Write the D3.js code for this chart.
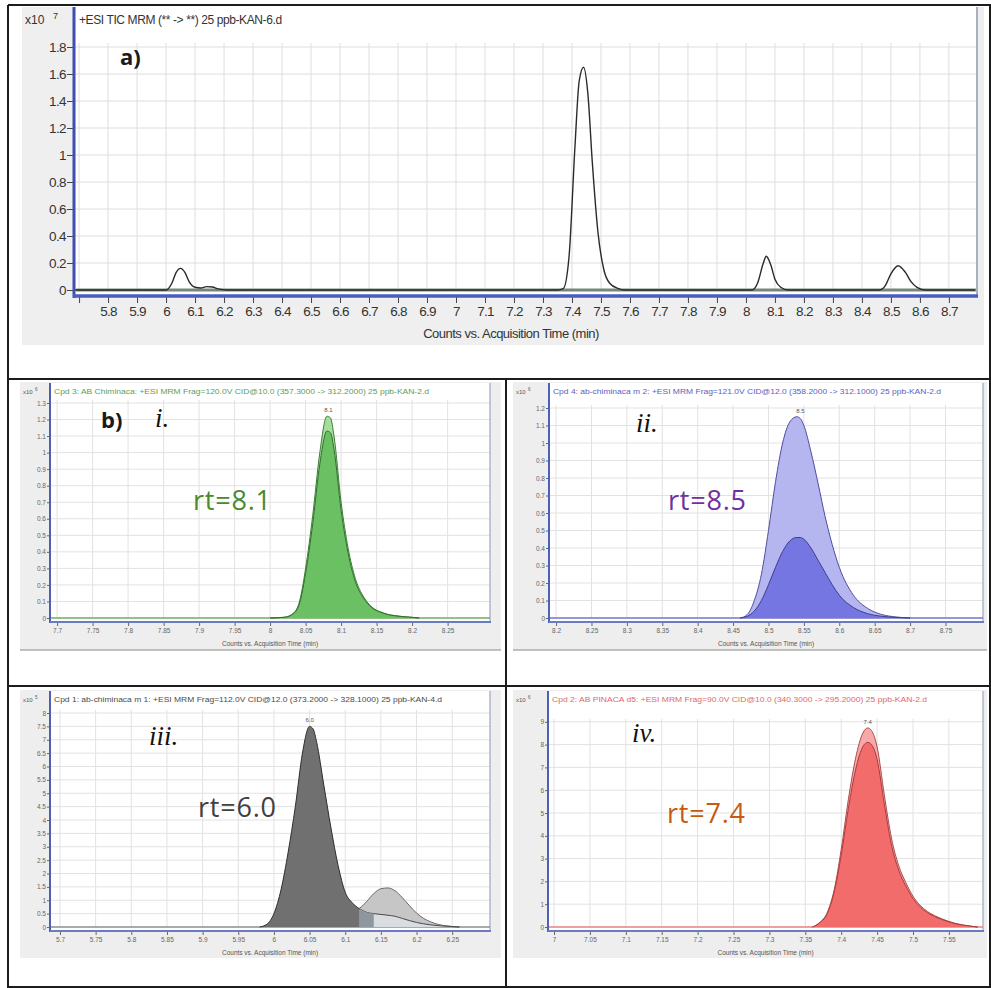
<!DOCTYPE html>
<html lang="en">
<head>
<meta charset="UTF-8" />
<title>MRM chromatograms</title>
<script src="https://cdn.jsdelivr.net/npm/d3@7"></script>
<style>
  body { margin: 0; background: #fff; }
  svg { display: block; font-family: "Liberation Sans", Arial, sans-serif; }
</style>
</head>
<body>
<div id="wrapper"></div>
<script>
// ---------- data ----------
// a) TIC, counts x10^7
const ticTime   = [5.686, 6.00, 6.02, 6.035, 6.05, 6.065, 6.08, 6.10, 6.12, 6.14, 6.16, 6.18, 6.21,
                   7.35, 7.37, 7.39, 7.41, 7.425, 7.44, 7.455, 7.47, 7.49, 7.51, 7.53, 7.56, 7.58,
                   8.02, 8.04, 8.06, 8.07, 8.085, 8.10, 8.12, 8.145,
                   8.46, 8.48, 8.50, 8.525, 8.55, 8.57, 8.59, 8.62, 8.79];
const ticCounts = [0, 0, 0.05, 0.13, 0.16, 0.13, 0.06, 0.02, 0.015, 0.025, 0.022, 0.008, 0,
                   0, 0.01, 0.25, 1.05, 1.55, 1.65, 1.45, 0.95, 0.42, 0.15, 0.05, 0.01, 0,
                   0, 0.05, 0.2, 0.25, 0.19, 0.08, 0.02, 0,
                   0, 0.03, 0.12, 0.18, 0.13, 0.06, 0.02, 0, 0];
const ticXTicks = [5.7, 5.8, 5.9, 6, 6.1, 6.2, 6.3, 6.4, 6.5, 6.6, 6.7, 6.8, 6.9, 7, 7.1, 7.2, 7.3,
                   7.4, 7.5, 7.6, 7.7, 7.8, 7.9, 8, 8.1, 8.2, 8.3, 8.4, 8.5, 8.6, 8.7];
const ticYTicks = [0, 0.2, 0.4, 0.6, 0.8, 1, 1.2, 1.4, 1.6, 1.8];

// b) i. AB-CHMINACA, counts x10^6
const timeI   = [8.00, 8.02, 8.03, 8.04, 8.05, 8.06, 8.07, 8.08, 8.085, 8.09, 8.10, 8.11, 8.12, 8.13, 8.14, 8.16, 8.18, 8.20, 8.21];
const outerI  = [0, 0.005, 0.02, 0.08, 0.3, 0.62, 1.0, 1.22, 1.21, 1.1, 0.7, 0.42, 0.24, 0.14, 0.08, 0.03, 0.012, 0.004, 0];
const innerI  = [0, 0.004, 0.018, 0.07, 0.27, 0.57, 0.93, 1.13, 1.12, 1.02, 0.65, 0.39, 0.22, 0.13, 0.075, 0.028, 0.011, 0.004, 0];
const xTicksI = [7.7, 7.75, 7.8, 7.85, 7.9, 7.95, 8, 8.05, 8.1, 8.15, 8.2, 8.25];
const yTicksI = [0, 0.1, 0.2, 0.3, 0.4, 0.5, 0.6, 0.7, 0.8, 0.9, 1, 1.1, 1.2, 1.3];

// b) ii. ab-chminaca m2, counts x10^6
const timeII   = [8.46, 8.47, 8.48, 8.49, 8.50, 8.51, 8.52, 8.53, 8.54, 8.545, 8.55, 8.56, 8.57, 8.58, 8.59, 8.60, 8.62, 8.64, 8.66, 8.68, 8.70];
const outerII  = [0, 0.02, 0.1, 0.25, 0.5, 0.78, 1.0, 1.12, 1.15, 1.14, 1.1, 0.95, 0.77, 0.58, 0.42, 0.29, 0.13, 0.055, 0.02, 0.006, 0];
const innerII  = [0, 0.01, 0.04, 0.1, 0.19, 0.29, 0.38, 0.44, 0.46, 0.46, 0.45, 0.4, 0.33, 0.26, 0.19, 0.13, 0.06, 0.025, 0.01, 0.003, 0];
const xTicksII = [8.2, 8.25, 8.3, 8.35, 8.4, 8.45, 8.5, 8.55, 8.6, 8.65, 8.7, 8.75];
const yTicksII = [0, 0.1, 0.2, 0.3, 0.4, 0.5, 0.6, 0.7, 0.8, 0.9, 1, 1.1, 1.2];

// b) iii. ab-chminaca m1, counts x10^5
const timeIII   = [5.98, 5.99, 6.00, 6.01, 6.02, 6.03, 6.04, 6.05, 6.055, 6.06, 6.07, 6.08, 6.09, 6.10, 6.11, 6.12,
                   6.13, 6.14, 6.15, 6.16, 6.17, 6.18, 6.19, 6.20, 6.22, 6.24, 6.26];
const mainIII   = [0, 0.1, 0.5, 1.4, 2.8, 4.5, 6.5, 7.5, 7.4, 6.9, 5.3, 3.7, 2.3, 1.3, 0.9, 0.68,
                   0.55, 0.5, 0.47, 0.44, 0.4, 0.32, 0.24, 0.17, 0.08, 0.03, 0];
const timeIIIb  = [6.11, 6.12, 6.13, 6.14, 6.15, 6.16, 6.17, 6.18, 6.19, 6.20, 6.21, 6.22, 6.23, 6.24, 6.25, 6.26];
const secondIII = [0.6, 0.7, 0.95, 1.25, 1.43, 1.46, 1.35, 1.1, 0.8, 0.52, 0.32, 0.19, 0.1, 0.05, 0.02, 0];
const xTicksIII = [5.7, 5.75, 5.8, 5.85, 5.9, 5.95, 6, 6.05, 6.1, 6.15, 6.2, 6.25];
const yTicksIII = [0, 0.5, 1, 1.5, 2, 2.5, 3, 3.5, 4, 4.5, 5, 5.5, 6, 6.5, 7, 7.5, 8];

// b) iv. AB-PINACA d5, counts x10^6
const timeIV   = [7.36, 7.37, 7.38, 7.39, 7.40, 7.41, 7.42, 7.43, 7.437, 7.445, 7.45, 7.46, 7.47, 7.48, 7.49, 7.50, 7.51, 7.52, 7.53, 7.54, 7.56, 7.58, 7.59];
const outerIV  = [0, 0.2, 0.6, 1.6, 3.4, 5.6, 7.4, 8.5, 8.73, 8.45, 7.9, 5.8, 3.9, 2.7, 1.95, 1.35, 0.95, 0.68, 0.5, 0.36, 0.15, 0.04, 0];
const innerIV  = [0, 0.18, 0.55, 1.5, 3.15, 5.2, 6.9, 7.9, 8.1, 7.85, 7.35, 5.4, 3.6, 2.5, 1.8, 1.25, 0.88, 0.63, 0.46, 0.33, 0.14, 0.037, 0];
const xTicksIV = [7, 7.05, 7.1, 7.15, 7.2, 7.25, 7.3, 7.35, 7.4, 7.45, 7.5, 7.55];
const yTicksIV = [0, 1, 2, 3, 4, 5, 6, 7, 8, 9];

const fmt = d => String(+d.toFixed(2));
const sans = '"Liberation Sans", Arial, sans-serif';

// ---------- page ----------
const svg = d3.select('#wrapper').append('svg')
  .attr('width', 991)
  .attr('height', 988);

// ---------- a) TIC ----------
function drawTic() {
  const g = svg.append('g');
  g.append('rect').attr('x', 22).attr('y', 7).attr('width', 962).attr('height', 338).attr('fill', '#efefef');
  g.append('rect').attr('x', 75).attr('y', 7).attr('width', 902).attr('height', 289).attr('fill', '#fff');

  const x = d3.scaleLinear().domain([5.686, 8.79]).range([75, 975]);
  const y = d3.scaleLinear().domain([0, 1.8]).range([290, 47]);

  // grid
  g.append('g').selectAll('line').data(ticXTicks).join('line')
    .attr('x1', d => x(d)).attr('x2', d => x(d))
    .attr('y1', y(1.8) - 4).attr('y2', y(0))
    .attr('stroke', '#dedede');
  g.append('g').selectAll('line').data(ticYTicks.slice(1)).join('line')
    .attr('x1', 75).attr('x2', 977)
    .attr('y1', d => y(d)).attr('y2', d => y(d))
    .attr('stroke', '#dedede');

  g.append('line').attr('x1', 977).attr('x2', 977).attr('y1', 7).attr('y2', 296)
    .attr('stroke', '#8e9aae').attr('stroke-width', 1.5);

  // baseline + trace
  g.append('line').attr('x1', 76).attr('x2', 976).attr('y1', y(0)).attr('y2', y(0))
    .attr('stroke', '#76887a').attr('stroke-width', 3);
  const line = d3.line().x(d => x(d[0])).y(d => y(d[1])).curve(d3.curveMonotoneX);
  g.append('path').attr('d', line(d3.zip(ticTime, ticCounts)))
    .attr('fill', 'none').attr('stroke', '#2a2a2a').attr('stroke-width', 1.4);

  // axes
  const yAxis = g.append('g').attr('transform', 'translate(74,0)')
    .call(d3.axisLeft(y).tickValues(ticYTicks).tickFormat(fmt).tickSize(7).tickPadding(1));
  yAxis.select('.domain').remove();
  yAxis.selectAll('text').style('font-family', sans)
    .attr('font-size', 13.5).attr('fill', '#333').attr('letter-spacing', -0.6);
  yAxis.selectAll('line').attr('stroke', '#444');

  const xAxis = g.append('g').attr('transform', 'translate(0,297)')
    .call(d3.axisBottom(x).tickValues(ticXTicks).tickFormat(d => d === 5.7 ? '' : fmt(d)).tickSize(6).tickPadding(3));
  xAxis.select('.domain').remove();
  xAxis.selectAll('text').style('font-family', sans)
    .attr('font-size', 13.5).attr('fill', '#333').attr('letter-spacing', -0.7);
  xAxis.selectAll('line').attr('stroke', '#444');

  g.append('line').attr('x1', 74).attr('x2', 74).attr('y1', 7).attr('y2', 298)
    .attr('stroke', '#3f4fb0').attr('stroke-width', 3);
  g.append('line').attr('x1', 73).attr('x2', 978).attr('y1', 296).attr('y2', 296)
    .attr('stroke', '#4a5cc0').attr('stroke-width', 3.5);

  g.append('text').attr('x', 25).attr('y', 24).attr('font-size', 12).attr('fill', '#333').text('x10');
  g.append('text').attr('x', 53).attr('y', 19).attr('font-size', 9).attr('fill', '#333').text('7');
  g.append('text').attr('x', 79).attr('y', 24).attr('font-size', 12).attr('fill', '#333')
    .attr('letter-spacing', -0.4).text('+ESI TIC MRM (** -> **) 25 ppb-KAN-6.d');
  g.append('text').attr('x', 511).attr('y', 338).attr('text-anchor', 'middle')
    .attr('font-size', 13).attr('fill', '#333').attr('letter-spacing', -0.5)
    .text('Counts vs. Acquisition Time (min)');
}

// ---------- b) small MRM panels ----------
function drawPanel(c) {
  const g = svg.append('g');
  g.append('rect').attr('x', c.bx).attr('y', c.by).attr('width', c.bw).attr('height', c.bh).attr('fill', '#eeeeee');
  g.append('rect').attr('x', c.left).attr('y', c.top).attr('width', c.right - c.left).attr('height', c.axisY - c.top)
    .attr('fill', '#fff');
  if (c.bottomLine) {
    g.append('line').attr('x1', c.bx).attr('x2', c.bx + c.bw).attr('y1', c.by + c.bh).attr('y2', c.by + c.bh)
      .attr('stroke', '#888').attr('stroke-width', 1.2);
  }

  const x = d3.scaleLinear().domain(c.xDomain).range([c.left, c.right]);
  const y = d3.scaleLinear().domain([0, c.yMax]).range([c.zeroY, c.top]);
  const yTop = y(c.yTicks[c.yTicks.length - 1]) - 3;

  g.append('g').selectAll('line').data(c.xTicks).join('line')
    .attr('x1', d => x(d)).attr('x2', d => x(d)).attr('y1', yTop).attr('y2', c.zeroY)
    .attr('stroke', '#e2e2e2');
  g.append('g').selectAll('line').data(c.yTicks.slice(1)).join('line')
    .attr('x1', c.left).attr('x2', c.right).attr('y1', d => y(d)).attr('y2', d => y(d))
    .attr('stroke', '#e2e2e2');
  g.append('line').attr('x1', c.right).attr('x2', c.right).attr('y1', c.top).attr('y2', c.axisY)
    .attr('stroke', '#9aa6c4').attr('stroke-width', 1.2);

  g.append('line').attr('x1', c.left).attr('x2', c.right).attr('y1', c.zeroY).attr('y2', c.zeroY)
    .attr('stroke', c.baseColor).attr('stroke-width', 1.5);

  const area = d3.area().x(d => x(d[0])).y0(y(0)).y1(d => y(d[1])).curve(d3.curveMonotoneX);
  const line = d3.line().x(d => x(d[0])).y(d => y(d[1])).curve(d3.curveMonotoneX);
  c.layers.forEach(l => {
    const pts = d3.zip(l.t, l.v).filter(d => (l.from == null || d[0] >= l.from) && (l.to == null || d[0] <= l.to));
    g.append('path').attr('d', area(pts)).attr('fill', l.fill).attr('stroke', 'none');
    if (l.stroke) {
      g.append('path').attr('d', line(pts)).attr('fill', 'none').attr('stroke', l.stroke).attr('stroke-width', 1);
    }
  });

  const yAxis = g.append('g').attr('transform', `translate(${c.left},0)`)
    .call(d3.axisLeft(y).tickValues(c.yTicks).tickFormat(fmt).tickSize(3).tickPadding(1));
  yAxis.select('.domain').remove();
  yAxis.selectAll('text').style('font-family', sans).attr('font-size', 6.5).attr('fill', '#666');
  yAxis.selectAll('line').attr('stroke', '#666');

  const xAxis = g.append('g').attr('transform', `translate(0,${c.axisY + 1})`)
    .call(d3.axisBottom(x).tickValues(c.xTicks).tickFormat(fmt).tickSize(3).tickPadding(2));
  xAxis.select('.domain').remove();
  xAxis.selectAll('text').style('font-family', sans).attr('font-size', 6.5).attr('fill', '#666');
  xAxis.selectAll('line').attr('stroke', '#666');

  g.append('line').attr('x1', c.left).attr('x2', c.left).attr('y1', c.top).attr('y2', c.axisY + 1)
    .attr('stroke', '#4f5fb5').attr('stroke-width', 2);
  g.append('line').attr('x1', c.left).attr('x2', c.right + 1).attr('y1', c.axisY).attr('y2', c.axisY)
    .attr('stroke', '#6a7ac4').attr('stroke-width', 2);

  g.append('text').attr('x', c.bx + 3).attr('y', c.top + 11).attr('font-size', 6).attr('fill', '#555').text('x10');
  g.append('text').attr('x', c.bx + 15).attr('y', c.top + 8).attr('font-size', 4.5).attr('fill', '#555').text(c.exp);
  g.append('text').attr('x', c.left + 4).attr('y', c.top + 11).attr('font-size', 6.5).attr('fill', c.titleColor)
    .attr('textLength', c.titleLen).attr('lengthAdjust', 'spacingAndGlyphs').text(c.title);
  g.append('text').attr('x', x(c.peakAt)).attr('y', y(c.peakVal) - 4).attr('text-anchor', 'middle')
    .attr('font-size', 6).attr('fill', '#555').text(c.peakLabel);
  g.append('text').attr('x', (c.left + c.right) / 2).attr('y', c.axisY + 24).attr('text-anchor', 'middle')
    .attr('font-size', 6.5).attr('fill', '#555').text('Counts vs. Acquisition Time (min)');
}

drawTic();

drawPanel({
  bx: 20, by: 382, bw: 481, bh: 268, bottomLine: true,
  left: 50, right: 490, top: 383, zeroY: 618, axisY: 622,
  xDomain: [7.69, 8.3097], yMax: (618 - 383) / 165.4,
  xTicks: xTicksI, yTicks: yTicksI, exp: '6', baseColor: '#6fae62',
  title: 'Cpd 3: AB Chiminaca: +ESI MRM Frag=120.0V CID@10.0 (357.3000 -> 312.2000) 25 ppb-KAN-2.d',
  titleLen: 375, titleColor: '#5c9e55',
  peakAt: 8.082, peakVal: 1.22, peakLabel: '8.1',
  layers: [
    { t: timeI, v: outerI, fill: '#a6dc9c', stroke: '#3e7f3a' },
    { t: timeI, v: innerI, fill: '#6cc064', stroke: '#2f6f2c' }
  ]
});

drawPanel({
  bx: 513, by: 382, bw: 474, bh: 268, bottomLine: true,
  left: 549, right: 983, top: 383, zeroY: 618, axisY: 622,
  xDomain: [8.19, 8.803], yMax: (618 - 383) / 175,
  xTicks: xTicksII, yTicks: yTicksII, exp: '6', baseColor: '#7474c8',
  title: 'Cpd 4: ab-chiminaca m 2: +ESI MRM Frag=121.0V CID@12.0 (358.2000 -> 312.1000) 25 ppb-KAN-2.d',
  titleLen: 388, titleColor: '#5a5ec0',
  peakAt: 8.545, peakVal: 1.15, peakLabel: '8.5',
  layers: [
    { t: timeII, v: outerII, fill: '#b5b5f0', stroke: '#4e4ea0' },
    { t: timeII, v: innerII, fill: '#7676e2', stroke: '#3c3c90' }
  ]
});

drawPanel({
  bx: 20, by: 690, bw: 481, bh: 268, bottomLine: false,
  left: 50, right: 490, top: 691, zeroY: 927, axisY: 931,
  xDomain: [5.686, 6.303], yMax: (927 - 691) / 26.75,
  xTicks: xTicksIII, yTicks: yTicksIII, exp: '5', baseColor: '#8a8f96',
  title: 'Cpd 1: ab-chiminaca m 1: +ESI MRM Frag=112.0V CID@12.0 (373.2000 -> 328.1000) 25 ppb-KAN-4.d',
  titleLen: 388, titleColor: '#4a4a4a',
  peakAt: 6.05, peakVal: 7.5, peakLabel: '6.0',
  layers: [
    { t: timeIIIb, v: secondIII, fill: '#c6c6c6', stroke: '#6a6a6a' },
    { t: timeIII, v: mainIII, from: 6.12, fill: '#d9dde2', stroke: '#4a4a4a' },
    { t: timeIII, v: mainIII, from: 6.12, to: 6.14, fill: '#8e969e' },
    { t: timeIII, v: mainIII, to: 6.12, fill: '#707070', stroke: '#2e2e2e' }
  ]
});

drawPanel({
  bx: 513, by: 690, bw: 474, bh: 268, bottomLine: false,
  left: 548, right: 983, top: 691, zeroY: 927, axisY: 931,
  xDomain: [6.9916, 7.5975], yMax: (927 - 691) / 22.8,
  xTicks: xTicksIV, yTicks: yTicksIV, exp: '6', baseColor: '#e88080',
  title: 'Cpd 2: AB PINACA d5: +ESI MRM Frag=90.0V CID@10.0 (340.3000 -> 295.2000) 25 ppb-KAN-2.d',
  titleLen: 375, titleColor: '#e06868',
  peakAt: 7.437, peakVal: 8.73, peakLabel: '7.4',
  layers: [
    { t: timeIV, v: outerIV, fill: '#f7a8a8', stroke: '#b04a4a' },
    { t: timeIV, v: innerIV, fill: '#f26c6c', stroke: '#a83c3c' }
  ]
});

// ---------- annotations ----------
const ann = svg.append('g');
ann.append('text').attr('x', 120).attr('y', 65).style('font-family', '"Open Sans", sans-serif')
  .attr('font-weight', 'bold').attr('font-size', 22).attr('fill', '#1a1a1a').text('a)');
ann.append('text').attr('x', 101).attr('y', 428).style('font-family', '"Open Sans", sans-serif')
  .attr('font-weight', 'bold').attr('font-size', 22).attr('fill', '#1a1a1a').text('b)');

const roman = [
  { s: 'i.', x: 155, y: 427 },
  { s: 'ii.', x: 636, y: 432 },
  { s: 'iii.', x: 149, y: 745 },
  { s: 'iv.', x: 632, y: 742 }
];
ann.selectAll('text.roman').data(roman).join('text').attr('class', 'roman')
  .attr('x', d => d.x).attr('y', d => d.y)
  .style('font-family', '"Liberation Serif", "DejaVu Serif", serif').style('font-style', 'italic')
  .attr('font-size', 27).attr('fill', '#111').text(d => d.s);

const rts = [
  { s: 'rt=8.1', x: 193, y: 510, c: '#4a8a2c' },
  { s: 'rt=8.5', x: 668, y: 510, c: '#7030a0' },
  { s: 'rt=6.0', x: 198, y: 817, c: '#404040' },
  { s: 'rt=7.4', x: 667, y: 823, c: '#c55a11' }
];
ann.selectAll('text.rt').data(rts).join('text').attr('class', 'rt')
  .attr('x', d => d.x).attr('y', d => d.y)
  .style('font-family', '"Open Sans", sans-serif').attr('font-size', 27)
  .attr('textLength', 78).attr('lengthAdjust', 'spacing')
  .attr('fill', d => d.c).text(d => d.s);

// ---------- table borders ----------
const b = svg.append('g').attr('stroke', '#1c1c1c').attr('stroke-width', 2);
b.append('line').attr('x1', 8).attr('x2', 991).attr('y1', 5).attr('y2', 5);
b.append('line').attr('x1', 8).attr('x2', 8).attr('y1', 5).attr('y2', 988);
b.append('line').attr('x1', 8).attr('x2', 991).attr('y1', 379).attr('y2', 379);
b.append('line').attr('x1', 8).attr('x2', 991).attr('y1', 686).attr('y2', 686);
b.append('line').attr('x1', 506).attr('x2', 506).attr('y1', 379).attr('y2', 988);
b.append('line').attr('x1', 990).attr('x2', 990).attr('y1', 5).attr('y2', 988);
b.append('line').attr('x1', 8).attr('x2', 991).attr('y1', 987).attr('y2', 987);
</script>
</body>
</html>
